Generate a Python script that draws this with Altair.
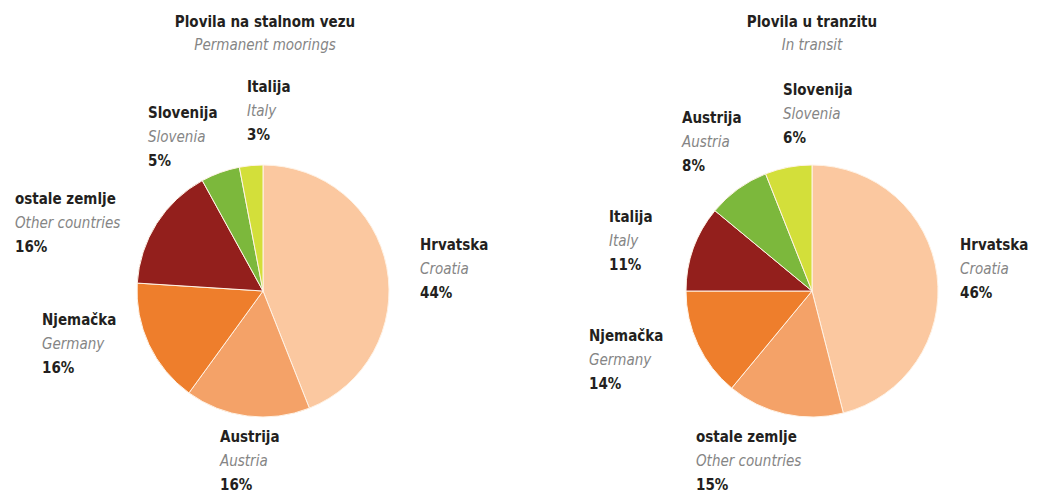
import altair as alt
import pandas as pd

# ---- data ----
left_names = ["Hrvatska", "Austrija", "Njemačka", "ostale zemlje", "Slovenija", "Italija"]
left_en = ["Croatia", "Austria", "Germany", "Other countries", "Slovenia", "Italy"]
left_vals = [44, 16, 16, 16, 5, 3]

right_names = ["Hrvatska", "ostale zemlje", "Njemačka", "Italija", "Austrija", "Slovenija"]
right_en = ["Croatia", "Other countries", "Germany", "Italy", "Austria", "Slovenia"]
right_vals = [46, 15, 14, 11, 8, 6]

titles = ["Plovila na stalnom vezu", "Plovila u tranzitu"]
subtitles = ["Permanent moorings", "In transit"]

# ---- layout / style (pixels in chart space) ----
W, H = 1022, 485
palette = ["#fbc8a0", "#f4a268", "#ee7e2c", "#931f1c", "#7cb83c", "#d3df3a"]
centers = [(255, 283), (804, 283)]
R = 126
title_x = [257, 804]
# first-line centres of labels, same order as the data lists
left_lab_xy = [(412, 237), (212, 429), (34, 312), (7, 191), (140, 105), (239, 79)]
right_lab_xy = [(952, 237), (688, 429), (581, 328), (601, 209), (674, 110), (775, 82)]
LS = 24
FONT = "Liberation Sans Narrow, DejaVu Sans Condensed, sans-serif"

xs = alt.Scale(domain=[0, W], range=[0, W])
ys = alt.Scale(domain=[0, H], range=[0, H])

layers = []
for k, (names, en, vals, labxy) in enumerate(
    [(left_names, left_en, left_vals, left_lab_xy), (right_names, right_en, right_vals, right_lab_xy)]
):
    df = pd.DataFrame({"name": names, "en": en, "v": vals, "idx": range(len(vals)),
                       "col": palette[: len(vals)]})
    cx, cy = centers[k]
    pie = alt.Chart(df).mark_arc(outerRadius=R, stroke="#fff3e6", strokeWidth=1).encode(
        theta=alt.Theta("v:Q", stack=True),
        order=alt.Order("idx:Q"),
        color=alt.Color("col:N", scale=None),
        x=alt.value(cx), y=alt.value(cy),
    )
    layers.append(pie)
    lab = pd.DataFrame({"name": names, "en": en, "pct": [f"{v}%" for v in vals],
                        "lx": [p[0] for p in labxy], "ly": [p[1] for p in labxy]})
    base = alt.Chart(lab).encode(x=alt.X("lx:Q", scale=xs, axis=None),
                                 y=alt.Y("ly:Q", scale=ys, axis=None))
    layers.append(base.mark_text(align="left", baseline="middle", font=FONT, fontSize=15,
                                 fontWeight="bold", color="#231f20").encode(text="name:N"))
    layers.append(base.mark_text(align="left", baseline="middle", font=FONT, fontSize=15,
                                 fontStyle="italic", color="#858585", dy=LS).encode(text="en:N"))
    layers.append(base.mark_text(align="left", baseline="middle", font=FONT, fontSize=15,
                                 fontWeight="bold", color="#231f20", dy=2 * LS).encode(text="pct:N"))
    tdf = pd.DataFrame({"t": [titles[k]], "s": [subtitles[k]], "tx": [title_x[k]], "ty": [14]})
    tb = alt.Chart(tdf).encode(x=alt.X("tx:Q", scale=xs, axis=None), y=alt.Y("ty:Q", scale=ys, axis=None))
    layers.append(tb.mark_text(align="center", baseline="middle", font=FONT, fontSize=15,
                               fontWeight="bold", color="#231f20").encode(text="t:N"))
    layers.append(tb.mark_text(align="center", baseline="middle", font=FONT, fontSize=15,
                               fontStyle="italic", color="#858585", dy=23).encode(text="s:N"))

chart = alt.layer(*layers).properties(
    width=W, height=H, autosize=alt.AutoSizeParams(type="none"), padding=0
).configure_view(stroke=None)

chart.save("out.html", embed_options={"renderer": "svg", "actions": False})
